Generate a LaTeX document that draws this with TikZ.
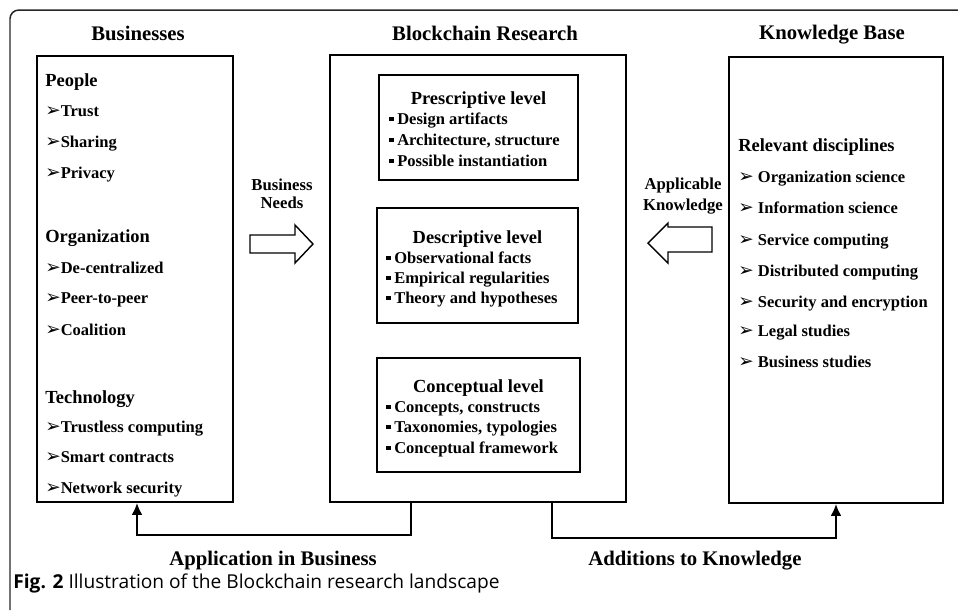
\documentclass[tikz,border=0pt]{standalone}
\usepackage{fontspec}
\setmainfont{Liberation Serif}
\newfontfamily\capfont{Open Sans}
\newfontfamily\dingfont{DejaVu Sans}
\usetikzlibrary{fit,arrows.meta}
\newcommand{\arrbul}{{\dingfont\fontsize{10.5}{10}\selectfont ➢}}
\newcommand{\sqbul}{\rule[1.6pt]{2.5pt}{2.5pt}\hspace{2pt}}

\begin{document}
\begin{tikzpicture}[x=0.02cm,y=-0.02cm,
    box/.style={draw, line width=1pt, inner sep=0pt},
    title/.style={anchor=base, font=\fontsize{11.8}{13}\selectfont\bfseries, inner sep=0pt},
    head/.style={anchor=base west, font=\fontsize{10.5}{12}\selectfont\bfseries, inner sep=0pt},
    item/.style={anchor=base west, font=\fontsize{9.4}{11}\selectfont\bfseries, inner sep=0pt},
    lvl/.style={anchor=base, font=\fontsize{10.5}{12}\selectfont\bfseries, inner sep=0pt},
    lbl/.style={align=center, font=\fontsize{9.5}{10.3}\selectfont\bfseries, inner sep=0pt},
    hollow/.style={draw, line width=0.8pt, line join=miter},
    flow/.style={line width=1.6pt, -{Latex[length=2.4mm,width=2.2mm]}}]

\useasboundingbox (0,0) rectangle (958,610);
\draw[line width=0.85pt, black!85, rounded corners=5pt] (958,10) -- (10,10) -- (10,610);

% the three columns
\node[box, fit={(37,56) (233,502)}] (biz) {};
\node[box, fit={(330,55) (626,502)}] (res) {};
\node[box, fit={(729,57) (943,503)}] (kb) {};
\node[title] (tbiz) at (138,40) {Businesses};
\node[title] (tres) at (485,40) {Blockchain Research};
\node[title] (tkb) at (832,39) {Knowledge Base};

% businesses
\node[head] (bp) at (45,86) {People};
\node[head] (bo) at (45,242) {Organization};
\node[head] (bt) at (45,403) {Technology};
\foreach \y/\t [count=\i] in {116/Trust, 147/Sharing, 178/Privacy,
    273/De-centralized, 303/Peer-to-peer, 335/Coalition,
    432/Trustless computing, 462/Smart contracts, 493/Network security}
  \node[item] (bi\i) at (45,\y) {\arrbul\t};

% levels
\node[box, fit={(379,75) (578,180)}] (pre) {};
\node[box, fit={(377,208) (578,323)}] (des) {};
\node[box, fit={(377,358) (580,472)}] (con) {};
\node[lvl] (pret) at (pre.north |- 0,104) {Prescriptive level};
\node[lvl] (dest) at (des.north |- 0,243) {Descriptive level};
\node[lvl] (cont) at (con.north |- 0,392) {Conceptual level};
\foreach \y/\t [count=\i] in {124/Design artifacts, 145/{Architecture, structure}, 166/Possible instantiation}
  \node[item] (pre\i) at (389,\y) {\sqbul\t};
\foreach \y/\t [count=\i] in {263/Observational facts, 283/Empirical regularities, 303/Theory and hypotheses}
  \node[item] (des\i) at (386,\y) {\sqbul\t};
\foreach \y/\t [count=\i] in {412/{Concepts, constructs}, 432/{Taxonomies, typologies}, 453/Conceptual framework}
  \node[item] (con\i) at (386,\y) {\sqbul\t};

% knowledge base
\node[head] (kh) at (738,151) {Relevant disciplines};
\foreach \y/\t [count=\i] in {182/Organization science, 213/Information science, 245/Service computing,
    276/Distributed computing, 307/Security and encryption, 336/Legal studies, 367/Business studies}
  \node[item] (ki\i) at (738,\y) {\arrbul\ \t};

% block arrows
\node[lbl] (needs) at (282,194) {Business\\Needs};
\draw[hollow] (250,235) -- (295,235) -- (295,225) -- (313,244) -- (295,263) -- (295,253) -- (250,253) -- cycle;
\node[lbl, font=\fontsize{9.5}{12.4}\selectfont\bfseries] (appk) at (683,196) {Applicable\\Knowledge};
\draw[hollow] (712,227) -- (668,227) -- (668,223) -- (648,243) -- (668,263) -- (668,252) -- (712,252) -- cycle;

% feedback loops
\draw[flow] (res.south -| 411,0) -- (411,535) -| (biz.south -| 137,0);
\draw[flow] (res.south -| 552,0) -- (552,538) -| (kb.south -| 836,0);
\node[title] (lapp) at (273,565) {Application in Business};
\node[title] (ladd) at (695,565) {Additions to Knowledge};

\node[anchor=west, inner sep=0pt, font=\capfont\fontsize{10.9}{12}\selectfont] (cap) at (13,583)
  {\textbf{Fig. 2} Illustration of the Blockchain research landscape};
\end{tikzpicture}
\end{document}
